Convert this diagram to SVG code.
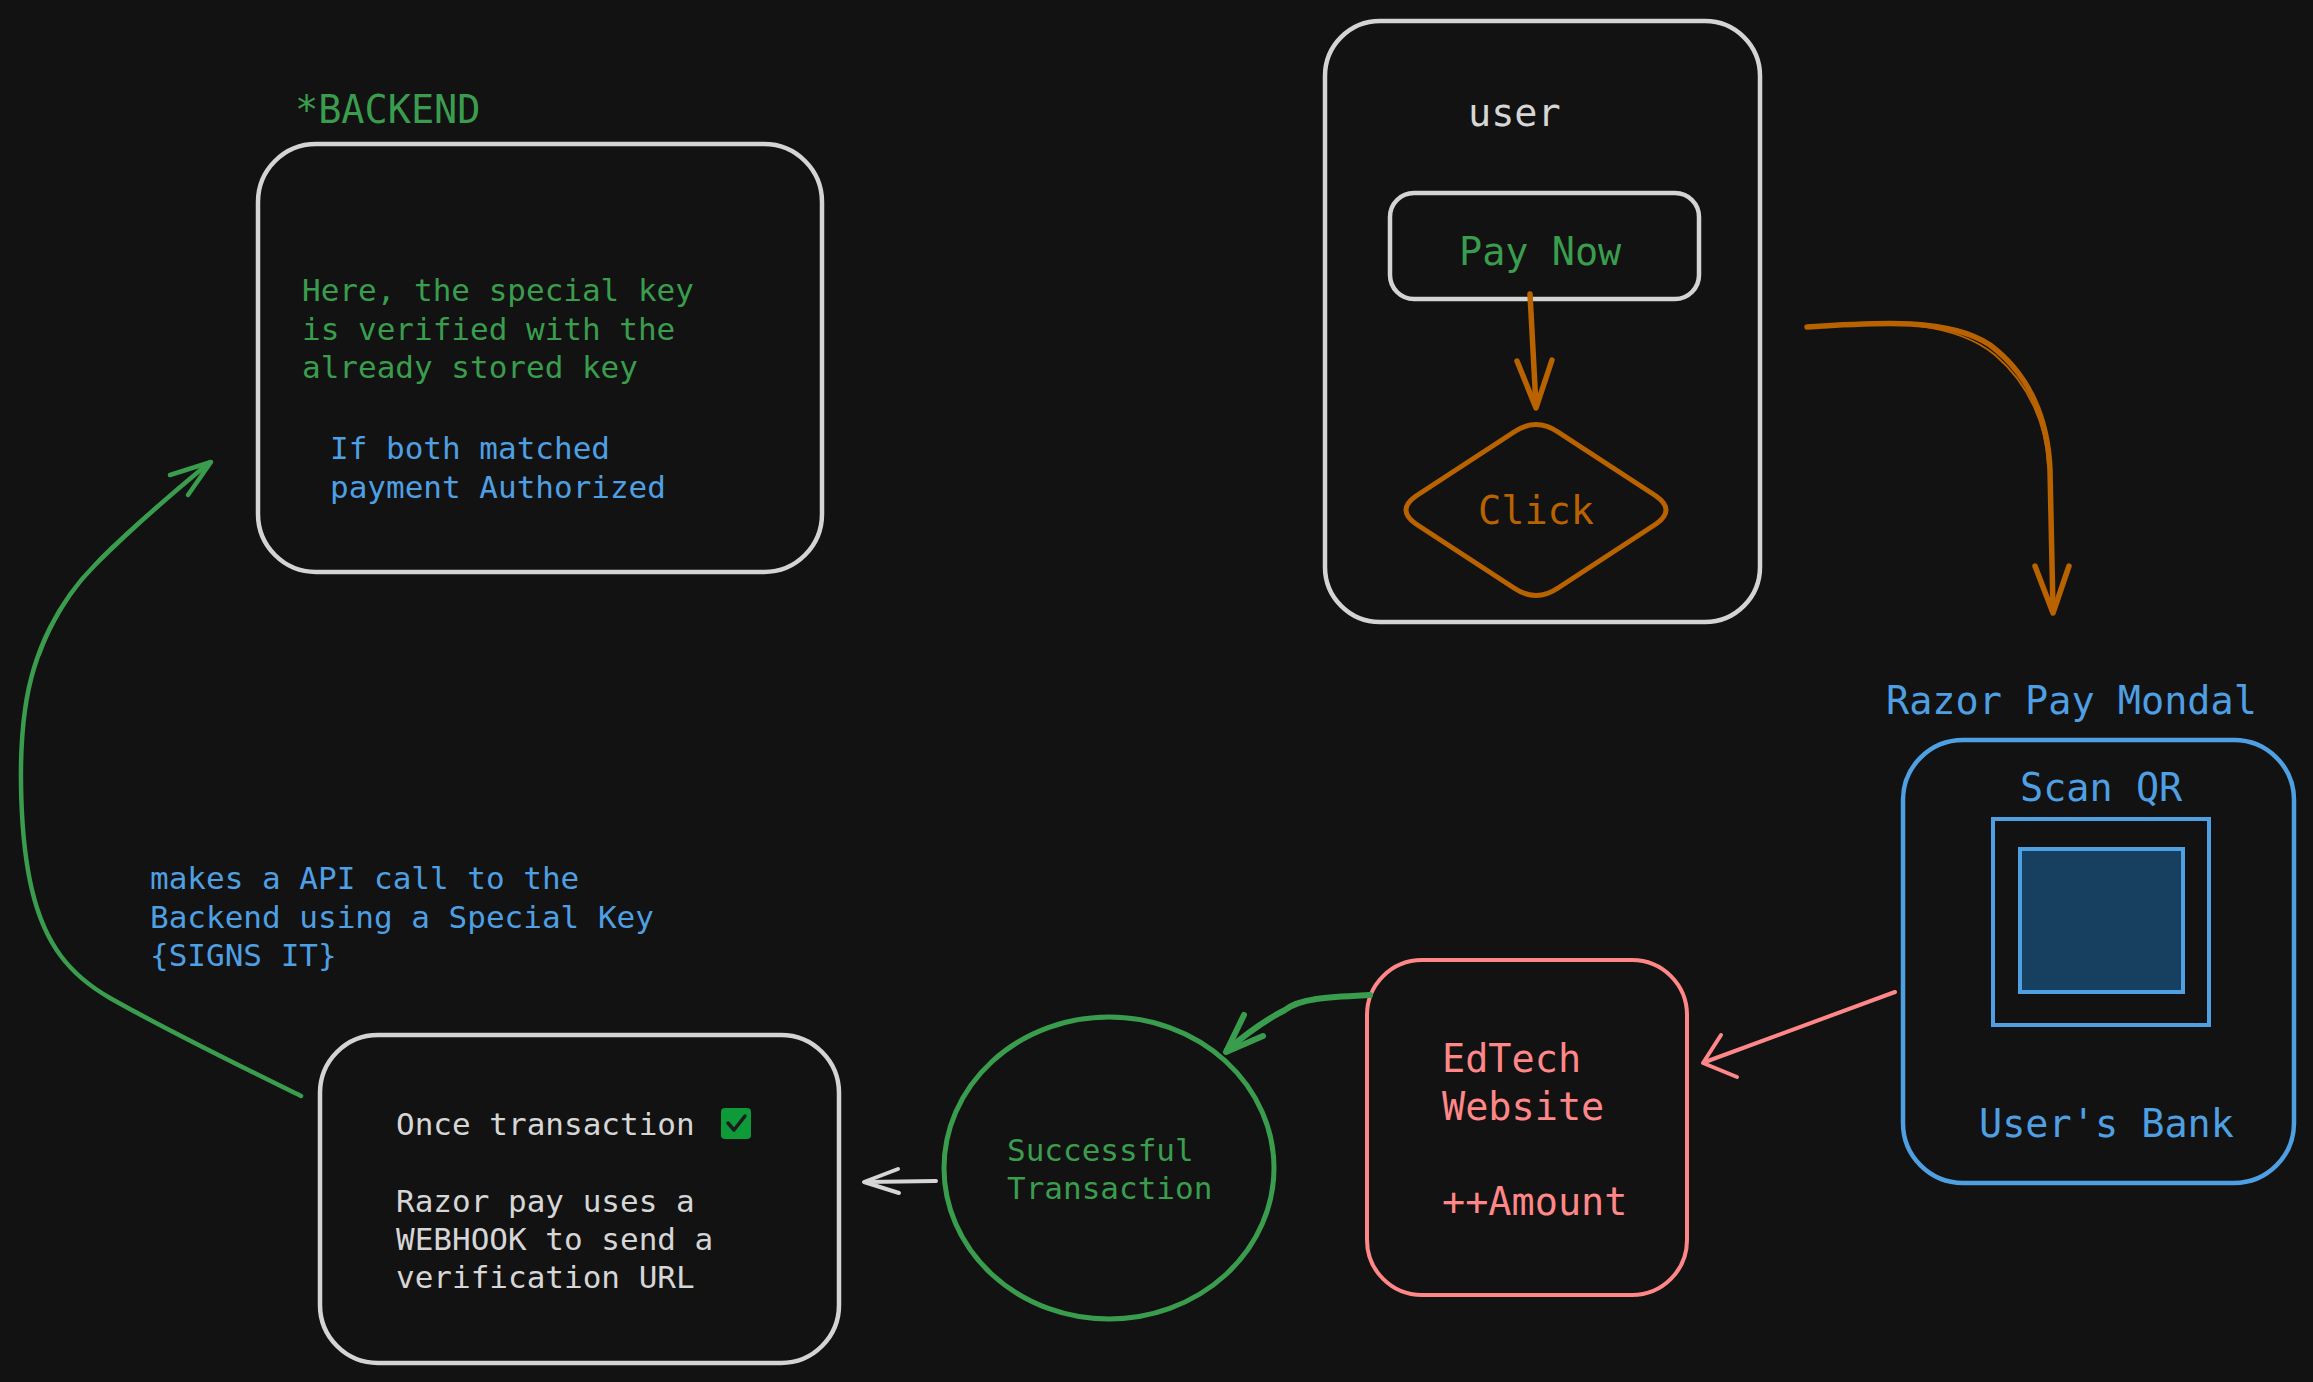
<svg xmlns="http://www.w3.org/2000/svg" width="2313" height="1382" viewBox="0 0 2313 1382">
<style>
text{font-family:"DejaVu Sans Mono","Liberation Mono",monospace;}
.big{font-size:38.5px;}
.sm{font-size:31px;}
.gray{fill:#d6d6d6;}
.green{fill:#3a9d4e;}
.blue{fill:#4f9fe3;}
.orange{fill:#b96200;}
.pink{fill:#ff8787;}
.box{fill:none;stroke:#d4d4d4;stroke-width:4.5;stroke-linecap:round;stroke-linejoin:round;}
.c{fill:none;stroke-linecap:round;stroke-linejoin:round;}
</style>
<rect x="0" y="0" width="2313" height="1382" fill="#121212"/>

<g id="backend">
  <text class="big green" x="295" y="123">*BACKEND</text>
  <rect class="box" x="258" y="144" width="564" height="428" rx="58"/>
  <text class="sm green" x="302" y="301">Here, the special key</text>
  <text class="sm green" x="302" y="339.5">is verified with the</text>
  <text class="sm green" x="302" y="378">already stored key</text>
  <text class="sm blue" x="330" y="459">If both matched</text>
  <text class="sm blue" x="330" y="498">payment Authorized</text>
</g>

<g id="user">
  <rect class="box" x="1325" y="21" width="435" height="601" rx="55"/>
  <text class="big gray" x="1468" y="126">user</text>
</g>

<g id="pay-now">
  <rect class="box" x="1390" y="193" width="309" height="106" rx="24"/>
  <text class="big green" x="1459" y="265">Pay Now</text>
</g>

<g id="click">
  <path d="M1514,432 Q1536,417 1558,432 L1656,496 Q1676,510 1656,524 L1558,588 Q1536,603 1514,588 L1416,524 Q1396,510 1416,496 Z" fill="none" stroke="#b96200" stroke-width="5" stroke-linejoin="round"/>
  <text class="big orange" x="1536" y="524" text-anchor="middle">Click</text>
</g>

<g id="razorpay-modal">
  <text class="big blue" x="1886" y="714">Razor Pay Mondal</text>
  <rect x="1903" y="740" width="391" height="443" rx="60" fill="none" stroke="#4f9fe3" stroke-width="4.5"/>
  <text class="big blue" x="2020" y="801">Scan QR</text>
  <text class="big blue" x="1979" y="1137">User's Bank</text>
</g>

<g id="qr">
  <rect x="1993" y="819" width="216" height="206" fill="none" stroke="#4f9fe3" stroke-width="4"/>
  <rect x="2020" y="849" width="163" height="143" fill="#173f5f" stroke="#4f9fe3" stroke-width="4"/>
</g>

<g id="edtech">
  <rect x="1367" y="960" width="320" height="335" rx="55" fill="none" stroke="#ff8787" stroke-width="4"/>
  <text class="big pink" x="1442" y="1072">EdTech</text>
  <text class="big pink" x="1442" y="1120">Website</text>
  <text class="big pink" x="1442" y="1215">++Amount</text>
</g>

<g id="success">
  <ellipse cx="1109" cy="1168" rx="165" ry="151" fill="none" stroke="#3a9d4e" stroke-width="5"/>
  <text class="sm green" x="1007" y="1161">Successful</text>
  <text class="sm green" x="1007" y="1199">Transaction</text>
</g>

<g id="webhook">
  <rect class="box" x="320" y="1035" width="519" height="328" rx="58"/>
  <text class="sm gray" x="396" y="1135">Once transaction</text>
  <rect x="721" y="1108" width="30" height="31" rx="4" fill="#0f9a3a"/>
  <path d="M728,1123 L734,1130 L745,1116" fill="none" stroke="#1c1c1c" stroke-width="3.5" stroke-linecap="round" stroke-linejoin="round"/>
  <text class="sm gray" x="396" y="1212">Razor pay uses a</text>
  <text class="sm gray" x="396" y="1250">WEBHOOK to send a</text>
  <text class="sm gray" x="396" y="1288">verification URL</text>
</g>

<g id="api-note">
  <text class="sm blue" x="150" y="889">makes a API call to the</text>
  <text class="sm blue" x="150" y="928">Backend using a Special Key</text>
  <text class="sm blue" x="150" y="966">{SIGNS IT}</text>
</g>

<g id="connectors">
  <g id="paynow-to-click" class="c" stroke="#b96200" stroke-width="5.5">
    <path d="M1530,294 L1536,406"/>
    <path d="M1517,361 L1536,408 L1552,360"/>
  </g>
  <g id="user-to-razorpay" class="c" stroke="#b96200" stroke-width="5.5">
    <path d="M1807,327 C1880,322 1950,318 1990,345 C2030,375 2048,420 2050,470 L2053,610"/>
    <path d="M1810,326 C1890,320 1955,322 1995,355 C2030,385 2046,425 2048,465" stroke-width="2"/>
    <path d="M2035,566 L2053,613 L2069,566"/>
  </g>
  <g id="razorpay-to-edtech" class="c" stroke="#ff8787" stroke-width="4">
    <path d="M1895,992 L1705,1062"/>
    <path d="M1721,1035 L1703,1063 L1737,1077"/>
  </g>
  <g id="edtech-to-success" class="c" stroke="#3a9d4e" stroke-width="6">
    <path d="M1370,995 C1330,997 1300,998 1285,1010 C1265,1020 1245,1035 1227,1050"/>
    <path d="M1244,1015 L1226,1052 L1263,1036"/>
  </g>
  <g id="success-to-webhook" class="c" stroke="#d6d6d6" stroke-width="4">
    <path d="M936,1181 L866,1182"/>
    <path d="M898,1169 L864,1182 L899,1193"/>
  </g>
  <g id="webhook-to-backend" class="c" stroke="#3a9d4e" stroke-width="4.5">
    <path d="M301,1096 C240,1066 170,1032 110,998 C70,975 45,945 32,890 C20,840 18,760 25,710 C33,650 60,600 95,565 C130,530 170,495 209,463"/>
    <path d="M40,655 C52,620 72,590 100,558 C135,523 170,494 205,466" stroke-width="2"/>
    <path d="M170,475 L211,462 L188,495"/>
  </g>
</g>
</svg>
